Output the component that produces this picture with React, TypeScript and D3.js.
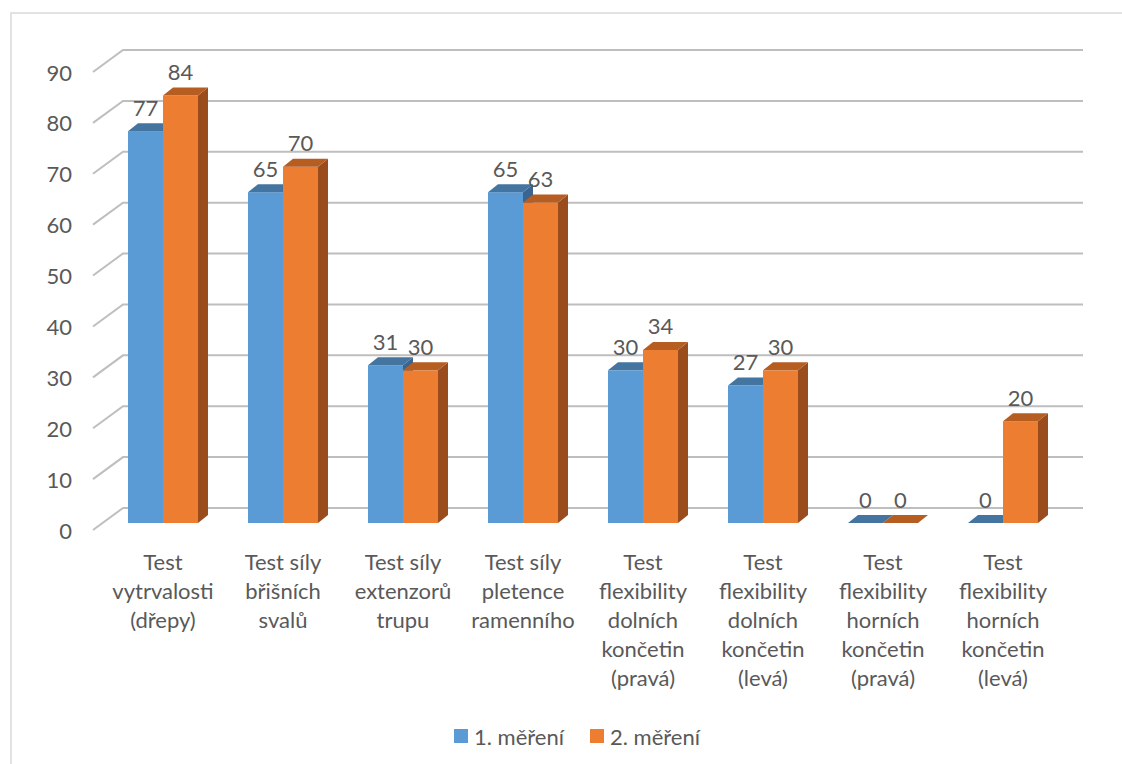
import React from "react";
import * as d3 from "d3";

const categories: string[][] = [
  ["Test", "vytrvalosti", "(dřepy)"],
  ["Test síly", "břišních", "svalů"],
  ["Test síly", "extenzorů", "trupu"],
  ["Test síly", "pletence", "ramenního"],
  ["Test", "flexibility", "dolních", "končetin", "(pravá)"],
  ["Test", "flexibility", "dolních", "končetin", "(levá)"],
  ["Test", "flexibility", "horních", "končetin", "(pravá)"],
  ["Test", "flexibility", "horních", "končetin", "(levá)"],
];
const series1: number[] = [77, 65, 31, 65, 30, 27, 0, 0];
const series2: number[] = [84, 70, 30, 63, 34, 30, 0, 20];
const seriesNames: string[] = ["1. měření", "2. měření"];
const yTicks: number[] = [0, 10, 20, 30, 40, 50, 60, 70, 80, 90];

const W = 1122;
const H = 764;
const FONT = "Lato, 'Open Sans', sans-serif";
const TXT = "#595959";
const FS = 22;

const colors = [
  { front: "#5B9BD5", top: "#4474A0", side: "#3A6590" },
  { front: "#ED7D31", top: "#B65D22", side: "#9A4C1D" },
];

export default function App() {
  const idx = categories.map((_, i) => String(i));
  const x = d3.scaleBand<string>().domain(idx).range([103, 1063]).paddingInner(0.4167).paddingOuter(0.2083);
  const xs = d3.scaleBand<number>().domain([0, 1]).range([0, x.bandwidth()]);
  const y = d3.scaleLinear().domain([0, 90]).range([523, 65]);

  const backDX = 20, backDY = -15;
  const frontDX = -10, frontDY = 7;
  const bdx = 10, bdy = -8;

  const data = [series1, series2];
  const [r0, r1] = x.range();

  const bars: JSX.Element[] = [];
  const labels: JSX.Element[] = [];
  categories.forEach((_, i) => {
    [0, 1].forEach((s) => {
      const v = data[s][i];
      const x0 = (x(String(i)) as number) + (xs(s) as number);
      const x1 = x0 + xs.bandwidth();
      const yt = y(v);
      const yb = y(0);
      const c = colors[s];
      bars.push(
        <g key={`b${i}-${s}`}>
          <polygon
            points={`${x1},${yt} ${x1 + bdx},${yt + bdy} ${x1 + bdx},${yb + bdy} ${x1},${yb}`}
            fill={c.side}
          />
          <rect x={x0} y={yt} width={x1 - x0} height={yb - yt} fill={c.front} />
          <polygon
            points={`${x0},${yt} ${x1},${yt} ${x1 + bdx},${yt + bdy} ${x0 + bdx},${yt + bdy}`}
            fill={c.top}
          />
        </g>
      );
      labels.push(
        <text
          key={`l${i}-${s}`}
          x={(x0 + x1) / 2}
          y={yt - 24}
          textAnchor="middle"
          dominantBaseline="central"
          fontFamily={FONT}
          fontSize={FS}
          fill={TXT}
        >
          {v}
        </text>
      );
    });
  });

  return (
    <svg
      width={W}
      height={H}
      style={{ position: "fixed", left: 0, top: 0, background: "#fff" }}
    >
      <rect x={11} y={13} width={1300} height={900} fill="#fff" stroke="#D9D9D9" strokeWidth={1.5} />
      {yTicks.map((t) => (
        <g key={`g${t}`}>
          <polyline
            points={`${r0 + frontDX},${y(t) + frontDY} ${r0 + backDX},${y(t) + backDY} ${r1 + backDX},${y(t) + backDY}`}
            fill="none"
            stroke="#BEBEBE"
            strokeWidth={2}
          />
          <text
            x={72}
            y={y(t) + frontDY}
            textAnchor="end"
            dominantBaseline="central"
            fontFamily={FONT}
            fontSize={FS}
            fill={TXT}
          >
            {t}
          </text>
        </g>
      ))}
      {bars}
      {labels}
      {categories.map((lines, i) => (
        <text
          key={`c${i}`}
          x={(x(String(i)) as number) + x.bandwidth() / 2}
          textAnchor="middle"
          fontFamily={FONT}
          fontSize={FS}
          fill={TXT}
        >
          {lines.map((ln, j) => (
            <tspan key={j} x={(x(String(i)) as number) + x.bandwidth() / 2} y={561 + j * 29} dominantBaseline="central">
              {ln}
            </tspan>
          ))}
        </text>
      ))}
      {seriesNames.map((n, s) => {
        const lx = s === 0 ? 454 : 590;
        return (
          <g key={`lg${s}`}>
            <rect x={lx} y={729} width={14} height={14} fill={colors[s].front} />
            <text x={lx + 20} y={736} dominantBaseline="central" fontFamily={FONT} fontSize={FS} fill={TXT}>
              {n}
            </text>
          </g>
        );
      })}
    </svg>
  );
}
